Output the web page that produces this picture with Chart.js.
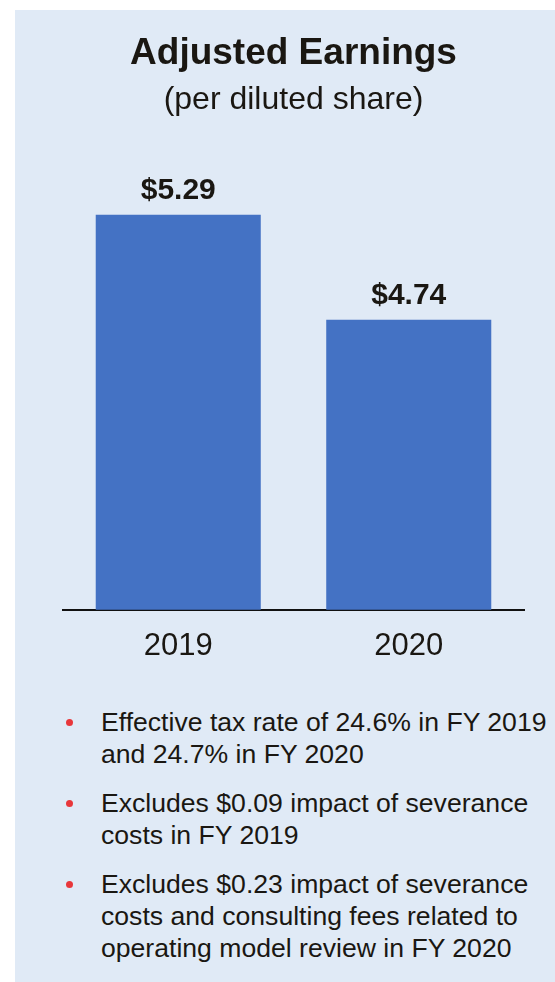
<!DOCTYPE html>
<html lang="en">
<head>
    <meta charset="UTF-8">
    <title>Adjusted Earnings</title>
    <script src="https://cdn.jsdelivr.net/npm/chart.js"></script>
    <style>
        html, body { margin: 0; padding: 0; background: #fff; }
        body { width: 555px; height: 982px; position: relative; overflow: hidden;
               font-family: "Liberation Sans", Arial, sans-serif; color: #1a1712; }
        .panel { position: absolute; left: 15px; top: 10px; width: 540px; height: 972px; background: #e0eaf6; }
        #earningsChart { position: absolute; left: 0; top: 0; }
        .notes { position: absolute; left: 86px; top: 696px; margin: 0; padding: 0; list-style: none;
                 font-size: 26.6px; line-height: 32px; white-space: nowrap; }
        .notes li { position: relative; margin-bottom: 17px; }
        .notes li::before { content: ""; position: absolute; left: -35px; top: 13px;
                            width: 7px; height: 7px; border-radius: 50%; background: #e8373b; }
    </style>
</head>
<body>
    <div class="panel">
        <canvas id="earningsChart" width="540" height="680"></canvas>
        <ul class="notes">
            <li>Effective tax rate of 24.6% in FY 2019<br>and 24.7% in FY 2020</li>
            <li>Excludes $0.09 impact of severance<br>costs in FY 2019</li>
            <li>Excludes $0.23 impact of severance<br>costs and consulting fees related to<br>operating model review in FY 2020</li>
        </ul>
    </div>

    <script>
        const years = ["2019", "2020"];
        const earningsPerShare = [5.29, 4.74];

        // value axis does not start at zero
        const Y_MIN = 3.22;
        const Y_MAX = 5.578;

        const FONT = '"Liberation Sans", Arial, sans-serif';
        const TEXT = "#1a1712";

        // dollar labels above each bar
        const valueLabels = {
            id: "valueLabels",
            afterDatasetsDraw(chart) {
                const ctx = chart.ctx;
                const meta = chart.getDatasetMeta(0);
                ctx.save();
                ctx.font = "bold 30px " + FONT;
                ctx.fillStyle = TEXT;
                ctx.textAlign = "center";
                ctx.textBaseline = "alphabetic";
                meta.data.forEach(function (bar, i) {
                    const v = chart.data.datasets[0].data[i];
                    ctx.fillText("$" + v.toFixed(2), bar.x, bar.y - 16);
                });
                ctx.restore();
            }
        };

        new Chart(document.getElementById("earningsChart"), {
            type: "bar",
            data: {
                labels: years,
                datasets: [{
                    data: earningsPerShare,
                    backgroundColor: "#4472c4",
                    borderWidth: 0,
                    barPercentage: 0.716,
                    categoryPercentage: 1
                }]
            },
            options: {
                responsive: false,
                animation: false,
                devicePixelRatio: 1,
                layout: { padding: { left: 48, right: 31, top: 0, bottom: 7 } },
                plugins: {
                    legend: { display: false },
                    tooltip: { enabled: false },
                    title: {
                        display: true,
                        text: "Adjusted Earnings",
                        color: TEXT,
                        font: { family: FONT, size: 37, weight: "bold", lineHeight: 1.2 },
                        padding: { top: 22, bottom: 0 }
                    },
                    subtitle: {
                        display: true,
                        text: "(per diluted share)",
                        color: TEXT,
                        font: { family: FONT, size: 32, lineHeight: 1.2 },
                        padding: { top: 5, bottom: 40 }
                    }
                },
                scales: {
                    x: {
                        grid: { display: false, drawTicks: false },
                        border: { display: true, color: "#111", width: 2 },
                        ticks: { color: TEXT, font: { family: FONT, size: 31, lineHeight: 1.2 }, padding: 18 }
                    },
                    y: { display: false, min: Y_MIN, max: Y_MAX }
                }
            },
            plugins: [valueLabels]
        });
    </script>
</body>
</html>
